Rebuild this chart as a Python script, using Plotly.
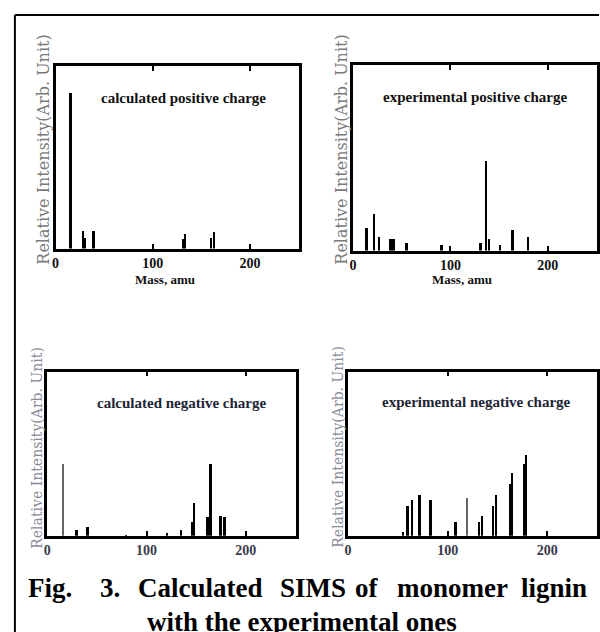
import plotly.graph_objects as go

# ---------------- data ----------------
calc_pos_mass = [15, 28, 30, 39, 131, 133, 160, 163]
calc_pos_int = [85, 9.7, 5.5, 9.7, 5.0, 7.8, 5.8, 8.8]

exp_pos_mass = [14, 22, 27, 38, 40, 42, 55, 91, 131, 137, 140, 151, 164, 180]
exp_pos_int = [12.2, 19.7, 7.2, 6.3, 6.3, 6.3, 4.1, 3.2, 4.1, 48.5, 6.3, 3.2, 11.3, 7.2]

calc_neg_mass = [16, 30, 41, 80, 121, 135, 146, 148, 162, 165, 175, 179]
calc_neg_int = [44.1, 3.5, 5.5, 1.0, 2.0, 3.5, 8.5, 20.0, 11.6, 44.1, 12.2, 11.6]

exp_neg_mass = [55, 60, 64, 72, 83, 108, 120, 132, 135, 146, 149, 163, 165, 177, 179]
exp_neg_int = [2.4, 18.3, 22.2, 25.0, 22.2, 8.5, 23.2, 8.5, 12.2, 18.3, 25.0, 31.5, 38.4, 44.1, 49.2]

tick_vals = [0, 100, 200]
tick_text = ["0", "100", "200"]

panel_titles = ["calculated positive charge", "experimental positive charge",
                "calculated negative charge", "experimental negative charge"]
y_title = "Relative Intensity(Arb. Unit)"
x_title = "Mass, amu"
caption_line1 = ["Fig.", "3.", "Calculated", "SIMS", "of", "monomer", "lignin"]
caption_line2 = "with the experimental ones"

# ---------------- styles / layout ----------------
W, H = 600, 632
def px(x):
    return x / W
def py(y):
    return 1 - y / H

panels = [
    dict(mass=calc_pos_mass, inten=calc_pos_int, thin=set(), x0=52, x1=297, y0=66, y1=248.5,
         tx=0.527, ty=0.824, tcol="#111111", ytx=40, yty=150, tcolor="#111111"),
    dict(mass=exp_pos_mass, inten=exp_pos_int, thin=set(), x0=352, x1=597.5, y0=65, y1=250.5,
         tx=0.50, ty=0.829, tcol="#111111", ytx=340.5, yty=150, tcolor="#111111"),
    dict(mass=calc_neg_mass, inten=calc_neg_int, thin={16}, x0=43.5, x1=294, y0=371.5, y1=535.7,
         tx=0.54, ty=0.806, tcol="#1c2435", ytx=33, yty=448, tcolor="#3a3a4a"),
    dict(mass=exp_neg_mass, inten=exp_neg_int, thin={120}, x0=347, x1=598, y0=371.5, y1=535.7,
         tx=0.517, ty=0.816, tcol="#1c2435", ytx=336.5, yty=447, tcolor="#3a3a4a"),
]

fig = go.Figure()
annotations = []
for i, p in enumerate(panels):
    n = "" if i == 0 else str(i + 1)
    widths = [1.0 if m in p["thin"] else 2.0 for m in p["mass"]]
    colors = ["#666666" if m in p["thin"] else "#000000" for m in p["mass"]]
    fig.add_trace(go.Bar(x=p["mass"], y=p["inten"], width=widths,
                         marker=dict(color=colors, line=dict(width=0)),
                         xaxis="x" + n, yaxis="y" + n, showlegend=False))
    fig.layout["xaxis" + n] = dict(
        domain=[px(p["x0"]), px(p["x1"])], range=[0, 250], anchor="y" + n,
        tickvals=tick_vals, ticktext=tick_text, ticks="inside", ticklen=5, tickwidth=2,
        tickcolor="black", showline=True, linecolor="black", linewidth=2.5,
        mirror="ticks", showgrid=False, zeroline=False,
        tickfont=dict(family="Liberation Serif", size=14, color=p["tcolor"], weight="bold"))
    fig.layout["yaxis" + n] = dict(
        domain=[py(p["y1"]), py(p["y0"])], range=[0, 100], anchor="x" + n,
        showline=True, linecolor="black", linewidth=2.5, mirror=True,
        showticklabels=False, ticks="", showgrid=False, zeroline=False)
    annotations.append(dict(text="<b>" + panel_titles[i] + "</b>", xref="x" + n + " domain",
                            yref="y" + n + " domain", x=p["tx"], y=p["ty"], showarrow=False,
                            xanchor="center", yanchor="middle",
                            font=dict(family="Liberation Serif", size=15, color=p["tcol"])))
    annotations.append(dict(text=y_title, xref="paper", yref="paper", x=px(p["ytx"]), y=py(p["yty"]),
                            textangle=-90, showarrow=False, xanchor="center", yanchor="middle",
                            font=dict(family="DejaVu Serif", size=16 if i < 2 else 14,
                                      color="#7a7a7a" if i < 2 else "#8a8a98")))

# x-axis titles (top panels only)
for xc in [162.5, 462]:
    annotations.append(dict(text="<b>" + x_title + "</b>", xref="paper", yref="paper",
                            x=px(xc), y=py(279),
                            showarrow=False, xanchor="center", yanchor="middle",
                            font=dict(family="Liberation Serif", size=13, color="#111111")))

# caption
cap_x = [22, 95, 133, 276, 352, 394, 519]
for word, xl in zip(caption_line1, cap_x):
    annotations.append(dict(text="<b>" + word + "</b>", xref="paper", yref="paper",
                            x=px(xl), y=py(588), xanchor="left", yanchor="middle", showarrow=False,
                            font=dict(family="Liberation Serif", size=27, color="black")))
annotations.append(dict(text="<b>" + caption_line2 + "</b>", xref="paper", yref="paper",
                        x=0.5, y=py(622), xanchor="center", yanchor="middle", showarrow=False,
                        font=dict(family="Liberation Serif", size=27, color="black")))

shapes = [
    dict(type="line", xref="paper", yref="paper", x0=px(11), x1=px(11), y0=py(15), y1=0,
         line=dict(color="black", width=2)),
    dict(type="line", xref="paper", yref="paper", x0=px(11), x1=1, y0=py(15), y1=py(15),
         line=dict(color="black", width=2)),
]

fig.update_layout(width=W, height=H, margin=dict(l=0, r=0, t=0, b=0),
                  paper_bgcolor="white", plot_bgcolor="white",
                  annotations=annotations, shapes=shapes, bargap=0)

fig.write_html("out.html", config={"displayModeBar": False},
               post_script="document.body.style.margin='0';document.body.style.overflow='hidden';")
